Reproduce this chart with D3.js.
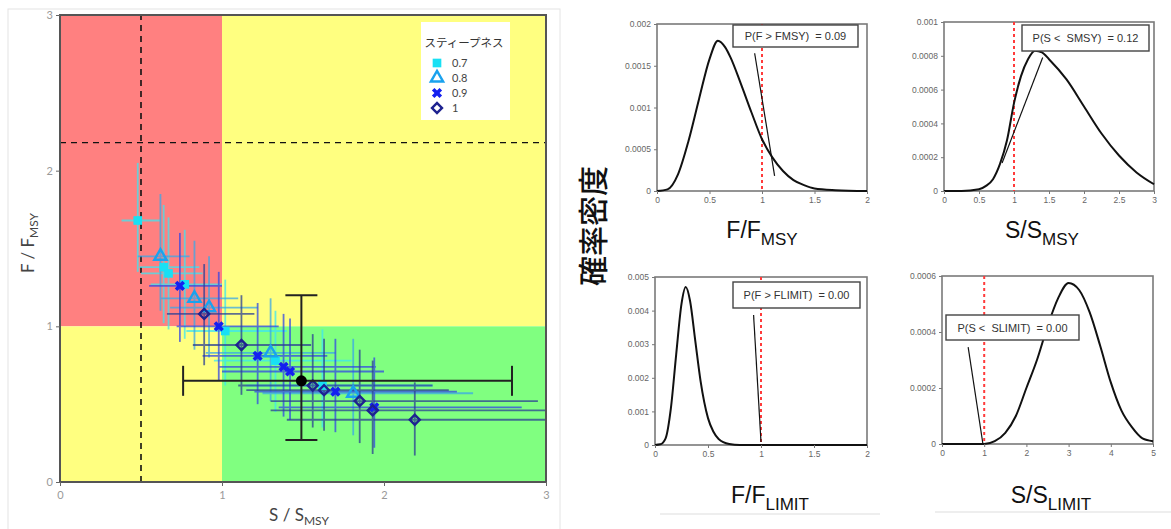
<!DOCTYPE html>
<html>
<head>
<meta charset="utf-8">
<script src="https://cdn.jsdelivr.net/npm/d3@7"></script>
<style>
  body { margin: 0; background: #fff; }
  svg { display: block; }
  text { white-space: pre; }
</style>
</head>
<body>
<div id="chart"></div>
<script>
// ---- left panel: S/SMSY vs F/FMSY, one row per point: [S, F, Slow, Shigh, Flow, Fhigh]
const steep07 = [
  [0.48, 1.68, 0.38, 0.62, 1.35, 2.05],
  [0.64, 1.38, 0.49, 0.86, 1.02, 1.78],
  [0.67, 1.34, 0.50, 0.88, 0.98, 1.70],
  [0.77, 1.27, 0.56, 1.00, 0.92, 1.62],
  [1.02, 0.97, 0.78, 1.40, 0.62, 1.30],
  [1.33, 0.78, 0.95, 1.80, 0.45, 1.10],
  [1.62, 0.62, 1.15, 2.30, 0.35, 0.98]
];
const steep08 = [
  [0.62, 1.45, 0.48, 0.80, 1.10, 1.85],
  [0.83, 1.18, 0.62, 1.10, 0.85, 1.55],
  [0.92, 1.12, 0.68, 1.22, 0.80, 1.45],
  [1.30, 0.83, 0.90, 1.70, 0.52, 1.18],
  [1.81, 0.57, 1.25, 2.55, 0.30, 0.92]
];
const steep09 = [
  [0.74, 1.26, 0.55, 1.00, 0.90, 1.60],
  [0.98, 1.00, 0.72, 1.35, 0.65, 1.35],
  [1.22, 0.81, 0.88, 1.65, 0.50, 1.15],
  [1.38, 0.74, 0.98, 1.95, 0.42, 1.08],
  [1.42, 0.71, 1.00, 2.00, 0.40, 1.05],
  [1.70, 0.58, 1.20, 2.45, 0.32, 0.92],
  [1.94, 0.48, 1.35, 2.85, 0.22, 0.80]
];
const steep10 = [
  [0.89, 1.08, 0.66, 1.20, 0.75, 1.40],
  [1.12, 0.88, 0.82, 1.55, 0.56, 1.20],
  [1.56, 0.62, 1.10, 2.30, 0.35, 0.95],
  [1.63, 0.59, 1.15, 2.40, 0.33, 0.92],
  [1.85, 0.52, 1.30, 2.95, 0.25, 0.85],
  [1.93, 0.46, 1.30, 3.00, 0.18, 0.78],
  [2.19, 0.40, 1.40, 3.00, 0.17, 0.64]
];
const overall = [1.49, 0.65, 0.76, 2.79, 0.27, 1.20];
const steepLabels = ["0.7", "0.8", "0.9", "1"];
const sRef = 0.5;     // vertical dashed line
const fRef = 2.18;    // horizontal dashed line
const leftTicks = [0, 1, 2, 3];

// ---- right panels: density curves
const fmsyX = [0, 0.1, 0.2, 0.3, 0.4, 0.5, 0.58, 0.65, 0.7, 0.8, 0.9, 1.0, 1.1, 1.2, 1.3, 1.4, 1.5, 1.7, 2.0];
const fmsyY = [0, 0.00002, 0.0002, 0.0006, 0.0011, 0.00158, 0.0018, 0.00172, 0.0016, 0.00128, 0.00094, 0.00062, 0.0004, 0.00024, 0.00013, 0.00007, 0.00003, 0.00001, 0];
const smsyX = [0, 0.25, 0.5, 0.6, 0.7, 0.8, 0.9, 1.0, 1.1, 1.2, 1.3, 1.4, 1.5, 1.75, 2.0, 2.25, 2.5, 2.75, 3.0];
const smsyY = [0, 0, 0.00001, 0.00003, 0.00007, 0.00016, 0.0003, 0.00052, 0.00068, 0.00078, 0.00083, 0.00082, 0.00078, 0.00066, 0.0005, 0.00034, 0.00021, 0.00011, 0.00004];
const flimX = [0, 0.05, 0.1, 0.15, 0.2, 0.25, 0.29, 0.33, 0.38, 0.43, 0.5, 0.55, 0.6, 0.7, 0.8, 2.0];
const flimY = [0, 0.00002, 0.0002, 0.0011, 0.0027, 0.0042, 0.0047, 0.0043, 0.0031, 0.0019, 0.0008, 0.0004, 0.00018, 0.00003, 0, 0];
const slimX = [0, 1, 1.25, 1.5, 1.75, 2, 2.25, 2.5, 2.75, 3, 3.25, 3.5, 3.75, 4, 4.25, 4.5, 4.75, 5];
const slimY = [0, 0, 0.00001, 0.00004, 0.0001, 0.0002, 0.0003, 0.00042, 0.00052, 0.000575, 0.00055, 0.00047, 0.00035, 0.00022, 0.00012, 0.00006, 0.00002, 0.00001];
const probLabels = ["P(F > FMSY)  = 0.09", "P(S <  SMSY)  = 0.12", "P(F > FLIMIT)  = 0.00", "P(S <  SLIMIT)  = 0.00"];
// leader lines, data units [x1, y1, x2, y2]
const leaders = [
  [0.93, 0.00165, 1.12, 0.00018],
  [0.83, 0.000166, 1.41, 0.00079],
  [0.93, 0.00387, 1.0, 0.00009],
  [0.62, 0.000346, 0.97, 0]
];

const svg = d3.select("#chart").append("svg")
  .attr("width", 1171)
  .attr("height", 529);

// ================= left chart =================
const L = { left: 60, right: 546, top: 15, bottom: 482 };
const sx = d3.scaleLinear().domain([0, 3]).range([L.left, L.right]);
const sy = d3.scaleLinear().domain([0, 3]).range([L.bottom, L.top]);

// faint outer frame
svg.append("rect")
  .attr("x", 8).attr("y", 9).attr("width", 552).attr("height", 530)
  .attr("fill", "none").attr("stroke", "#e4e4e4");

const zones = [
  { s: [0, 1], f: [1, 3], fill: "#ff8080" },
  { s: [1, 3], f: [1, 3], fill: "#ffff80" },
  { s: [0, 1], f: [0, 1], fill: "#ffff80" },
  { s: [1, 3], f: [0, 1], fill: "#80ff80" }
];
svg.append("g").selectAll("rect")
  .data(zones)
  .enter().append("rect")
  .attr("x", d => sx(d.s[0]))
  .attr("y", d => sy(d.f[1]))
  .attr("width", d => sx(d.s[1]) - sx(d.s[0]))
  .attr("height", d => sy(d.f[0]) - sy(d.f[1]))
  .attr("fill", d => d.fill);

svg.append("line")
  .attr("x1", sx(sRef)).attr("x2", sx(sRef))
  .attr("y1", sy(0)).attr("y2", sy(3))
  .attr("stroke", "#111").attr("stroke-width", 1.6).attr("stroke-dasharray", "6,5");
svg.append("line")
  .attr("x1", sx(0)).attr("x2", sx(3))
  .attr("y1", sy(fRef)).attr("y2", sy(fRef))
  .attr("stroke", "#111").attr("stroke-width", 1.4).attr("stroke-dasharray", "6,5");

const series = [
  { data: steep07, bar: "#3de6f2", color: "#18e0f4", type: "square" },
  { data: steep08, bar: "#3aa8e8", color: "#1aa2ee", type: "triangle" },
  { data: steep09, bar: "#3346e6", color: "#1420f0", type: "x" },
  { data: steep10, bar: "#2c3f95", color: "#1e2290", type: "diamond" }
];

svg.append("clipPath").attr("id", "plotclip")
  .append("rect")
  .attr("x", L.left).attr("y", L.top)
  .attr("width", L.right - L.left).attr("height", L.bottom - L.top);

const bars = svg.append("g").attr("clip-path", "url(#plotclip)");
series.forEach(sr => {
  const g = bars.append("g").attr("stroke", sr.bar).attr("stroke-width", 1.8).attr("opacity", 0.75);
  g.selectAll(".h").data(sr.data).enter().append("line")
    .attr("x1", d => sx(d[2])).attr("x2", d => sx(d[3]))
    .attr("y1", d => sy(d[1])).attr("y2", d => sy(d[1]));
  g.selectAll(".v").data(sr.data).enter().append("line")
    .attr("x1", d => sx(d[0])).attr("x2", d => sx(d[0]))
    .attr("y1", d => sy(d[4])).attr("y2", d => sy(d[5]));
});

function drawSymbol(g, type, color, x, y) {
  if (type === "square") {
    g.append("path").attr("d", d3.symbol(d3.symbolSquare, 75)())
      .attr("transform", `translate(${x},${y})`).attr("fill", color);
  } else if (type === "triangle") {
    g.append("path").attr("d", d3.symbol(d3.symbolTriangle, 65)())
      .attr("transform", `translate(${x},${y})`)
      .attr("fill", "none").attr("stroke", color).attr("stroke-width", 2.4);
  } else if (type === "x") {
    g.append("path").attr("d", d3.symbol(d3.symbolCross, 65)())
      .attr("transform", `translate(${x},${y}) rotate(45)`).attr("fill", color);
  } else {
    g.append("path").attr("d", d3.symbol(d3.symbolSquare, 50)())
      .attr("transform", `translate(${x},${y}) rotate(45)`)
      .attr("fill", "none").attr("stroke", color).attr("stroke-width", 2.4);
  }
}

const marks = svg.append("g");
series.forEach(sr => {
  sr.data.forEach(d => drawSymbol(marks, sr.type, sr.color, sx(d[0]), sy(d[1])));
});

// overall estimate with capped error bars
const ov = svg.append("g").attr("stroke", "#222").attr("stroke-width", 2);
ov.append("line").attr("x1", sx(overall[2])).attr("x2", sx(overall[3]))
  .attr("y1", sy(overall[1])).attr("y2", sy(overall[1]));
ov.append("line").attr("x1", sx(overall[0])).attr("x2", sx(overall[0]))
  .attr("y1", sy(overall[4])).attr("y2", sy(overall[5]));
[overall[2], overall[3]].forEach(v => ov.append("line")
  .attr("x1", sx(v)).attr("x2", sx(v))
  .attr("y1", sy(overall[1]) - 15).attr("y2", sy(overall[1]) + 15));
[overall[4], overall[5]].forEach(v => ov.append("line")
  .attr("x1", sx(overall[0]) - 16).attr("x2", sx(overall[0]) + 16)
  .attr("y1", sy(v)).attr("y2", sy(v)));
svg.append("circle").attr("cx", sx(overall[0])).attr("cy", sy(overall[1]))
  .attr("r", 5.5).attr("fill", "#000");

// frame
svg.append("rect")
  .attr("x", L.left).attr("y", L.top)
  .attr("width", L.right - L.left).attr("height", L.bottom - L.top)
  .attr("fill", "none").attr("stroke", "#555").attr("stroke-width", 2);

const xAxisL = svg.append("g")
  .attr("transform", `translate(0,${L.bottom})`)
  .call(d3.axisBottom(sx).tickValues(leftTicks).tickSize(4).tickFormat(d3.format("d")));
const yAxisL = svg.append("g")
  .attr("transform", `translate(${L.left},0)`)
  .call(d3.axisLeft(sy).tickValues(leftTicks).tickSize(4).tickFormat(d3.format("d")));
[xAxisL, yAxisL].forEach(a => {
  a.select(".domain").remove();
  a.selectAll("line").attr("stroke", "#666");
  a.selectAll("text").attr("fill", "#999").attr("font-size", 11).attr("font-family", "Lato, sans-serif");
});
xAxisL.selectAll("text").attr("dy", "0.9em");

const xl = svg.append("text")
  .attr("x", 299).attr("y", 521)
  .attr("text-anchor", "middle")
  .attr("font-family", "Lato, sans-serif").attr("font-size", 17).attr("fill", "#444");
xl.append("tspan").text("S / S");
xl.append("tspan").attr("font-size", 12).attr("dy", 4).text("MSY");

const yl = svg.append("text")
  .attr("transform", "translate(34,243) rotate(-90)")
  .attr("text-anchor", "middle")
  .attr("font-family", "Lato, sans-serif").attr("font-size", 17).attr("fill", "#444");
yl.append("tspan").text("F / F");
yl.append("tspan").attr("font-size", 12).attr("dy", 4).text("MSY");

// legend
const lg = svg.append("g");
lg.append("rect").attr("x", 421).attr("y", 22).attr("width", 89).attr("height", 98).attr("fill", "#fff");
lg.append("text").attr("x", 464).attr("y", 47).attr("text-anchor", "middle")
  .attr("font-family", "'Noto Sans CJK JP', sans-serif").attr("font-size", 11.5).attr("fill", "#333")
  .text("スティープネス");
series.forEach((sr, i) => {
  const y = 63 + i * 15;
  drawSymbol(lg, sr.type, sr.color, 437, y);
  lg.append("text").attr("x", 452).attr("y", y + 4)
    .attr("font-family", "Lato, sans-serif").attr("font-size", 11).attr("fill", "#444")
    .text(steepLabels[i]);
});

// ================= right panels =================
const panels = [
  { xs: fmsyX, ys: fmsyY, box: [657, 867, 24, 191], xd: [0, 2], yd: [0, 0.002],
    xt: [0, 0.5, 1, 1.5, 2], yt: [0, 0.0005, 0.001, 0.0015, 0.002], lab: [733, 25, 125, 22],
    name: ["F/F", "MSY"], nameAt: [762, 238] },
  { xs: smsyX, ys: smsyY, box: [944, 1154, 22, 191], xd: [0, 3], yd: [0, 0.001],
    xt: [0, 0.5, 1, 1.5, 2, 2.5, 3], yt: [0, 0.0002, 0.0004, 0.0006, 0.0008, 0.001], lab: [1022, 25, 127, 26],
    name: ["S/S", "MSY"], nameAt: [1042, 238] },
  { xs: flimX, ys: flimY, box: [655, 867, 277, 445], xd: [0, 2], yd: [0, 0.005],
    xt: [0, 0.5, 1, 1.5, 2], yt: [0, 0.001, 0.002, 0.003, 0.004, 0.005], lab: [733, 282, 127, 26],
    name: ["F/F", "LIMIT"], nameAt: [770, 503] },
  { xs: slimX, ys: slimY, box: [942, 1153, 276, 444], xd: [0, 5], yd: [0, 0.0006],
    xt: [0, 1, 2, 3, 4, 5], yt: [0, 0.0002, 0.0004, 0.0006], lab: [946, 315, 133, 25],
    name: ["S/S", "LIMIT"], nameAt: [1051, 503] }
];

panels.forEach((p, i) => {
  const [x0, x1, y0, y1] = p.box;
  const x = d3.scaleLinear().domain(p.xd).range([x0, x1]);
  const y = d3.scaleLinear().domain(p.yd).range([y1, y0]);
  const g = svg.append("g");

  g.append("rect").attr("x", x0).attr("y", y0).attr("width", x1 - x0).attr("height", y1 - y0)
    .attr("fill", "#fff").attr("stroke", "#7a7a7a").attr("stroke-width", 1.6);

  g.append("line").attr("x1", x(1)).attr("x2", x(1)).attr("y1", y0).attr("y2", y1)
    .attr("stroke", "#ff3b3b").attr("stroke-width", 2).attr("stroke-dasharray", "3,3");

  const line = d3.line().x((d, k) => x(p.xs[k])).y(d => y(d)).curve(d3.curveMonotoneX);
  g.append("path").datum(p.ys).attr("d", line)
    .attr("fill", "none").attr("stroke", "#111").attr("stroke-width", 2);

  const ld = leaders[i];
  g.append("line").attr("x1", x(ld[0])).attr("y1", y(ld[1])).attr("x2", x(ld[2])).attr("y2", y(ld[3]))
    .attr("stroke", "#111").attr("stroke-width", 1.2);

  g.append("rect").attr("x", p.lab[0]).attr("y", p.lab[1]).attr("width", p.lab[2]).attr("height", p.lab[3])
    .attr("fill", "#fff").attr("stroke", "#444").attr("stroke-width", 1.4);
  g.append("text").attr("x", p.lab[0] + p.lab[2] / 2).attr("y", p.lab[1] + p.lab[3] / 2 + 4)
    .attr("text-anchor", "middle").attr("font-family", "'Liberation Sans', Arial, sans-serif")
    .attr("font-size", 11).attr("fill", "#333").text(probLabels[i]);

  const ax = g.append("g").attr("transform", `translate(0,${y1})`)
    .call(d3.axisBottom(x).tickValues(p.xt).tickSize(3).tickFormat(d3.format("")));
  const ay = g.append("g").attr("transform", `translate(${x0},0)`)
    .call(d3.axisLeft(y).tickValues(p.yt).tickSize(3).tickFormat(d => d === 0 ? "0" : String(+d.toPrecision(2))));
  [ax, ay].forEach(a => {
    a.select(".domain").remove();
    a.selectAll("line").attr("stroke", "#777");
    a.selectAll("text").attr("fill", "#666").attr("font-size", 8.5)
      .attr("font-family", "'Liberation Sans', Arial, sans-serif");
  });

  const t = svg.append("text").attr("x", p.nameAt[0]).attr("y", p.nameAt[1])
    .attr("text-anchor", "middle").attr("font-family", "'Liberation Sans', Arial, sans-serif")
    .attr("font-size", 23).attr("fill", "#111");
  t.append("tspan").text(p.name[0]);
  t.append("tspan").attr("font-size", 17).attr("dy", 7).text(p.name[1]);
});

// faint underlines below bottom labels
svg.append("line").attr("x1", 660).attr("x2", 880).attr("y1", 514).attr("y2", 514).attr("stroke", "#ddd");
svg.append("line").attr("x1", 935).attr("x2", 1171).attr("y1", 512).attr("y2", 512).attr("stroke", "#ddd");

svg.append("text")
  .attr("transform", "translate(591,226) rotate(-90)")
  .attr("text-anchor", "middle").attr("dominant-baseline", "central")
  .attr("font-family", "'Noto Sans CJK JP', sans-serif").attr("font-size", 30).attr("font-weight", 500)
  .attr("fill", "#111").text("確率密度");
</script>
</body>
</html>
